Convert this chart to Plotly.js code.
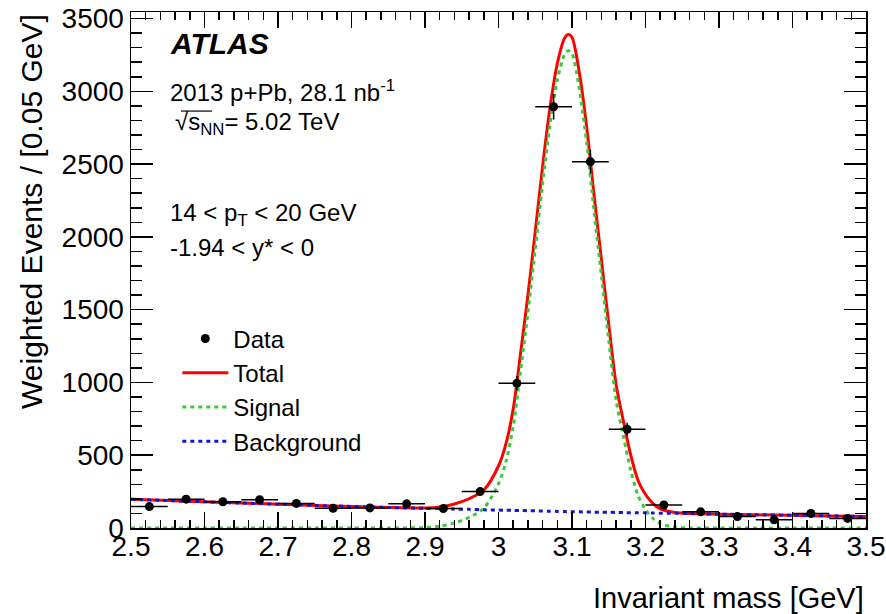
<!DOCTYPE html>
<html>
<head>
<meta charset="utf-8">
<script src="https://cdn.plot.ly/plotly-3.0.1.min.js"></script>
<style>html,body{margin:0;padding:0;background:#fff;}#chart{width:886px;height:614px;}</style>
</head>
<body>
<div id="chart"></div>
<script>
// ---- Data ----
const binCenters = [2.525, 2.575, 2.625, 2.675, 2.725, 2.775, 2.825, 2.875, 2.925, 2.975,
                    3.025, 3.075, 3.125, 3.175, 3.225, 3.275, 3.325, 3.375, 3.425, 3.475];
const dataValues = [147, 198, 180, 194, 169, 136, 138, 166, 134, 250,
                    994, 2894, 2517, 678, 158, 111, 79, 56, 100, 66];
const dataErrors = [20, 22, 21, 22, 21, 19, 19, 21, 19, 25,
                    50, 88, 82, 45, 20, 17, 15, 13, 17, 14];
const binHalfWidth = [0.025, 0.025, 0.025, 0.025, 0.025, 0.025, 0.025, 0.025, 0.025, 0.025,
                      0.025, 0.025, 0.025, 0.025, 0.025, 0.025, 0.025, 0.025, 0.025, 0.025];

const curveMass = [2.50, 2.55, 2.60, 2.65, 2.70, 2.75, 2.80, 2.85, 2.90, 2.92, 2.94, 2.96, 2.98,
                   3.00, 3.01, 3.02, 3.03, 3.04, 3.05, 3.06, 3.07, 3.08, 3.09, 3.095, 3.10,
                   3.11, 3.12, 3.13, 3.14, 3.15, 3.16, 3.17, 3.18, 3.19, 3.20, 3.21, 3.22,
                   3.24, 3.26, 3.30, 3.35, 3.40, 3.45, 3.50];
const totalFit = [197, 189, 180, 172, 164, 155, 148, 141, 138, 145, 165, 201, 261,
                  426, 576, 817, 1200, 1597, 2035, 2483, 2885, 3191, 3367, 3391, 3371,
                  3128, 2754, 2288, 1844, 1400, 985, 732, 499, 325, 230, 169, 132,
                  107, 99, 95, 91, 87, 83, 79];
const signalFit = [0, 0, 0, 0, 0, 0, 0, 0, 3, 12, 35, 73, 136,
                   303, 454, 696, 1080, 1478, 1917, 2366, 2770, 3077, 3254, 3279, 3259,
                   3017, 2644, 2179, 1735, 1292, 878, 626, 394, 221, 126, 66, 30,
                   6, 0, 0, 0, 0, 0, 0];
const backgroundFit = [197, 189, 180, 172, 164, 155, 148, 141, 135, 133, 130, 128, 125,
                       123, 122, 121, 120, 119, 118, 117, 115, 114, 113, 112, 112,
                       111, 110, 109, 109, 108, 107, 106, 105, 104, 104, 103, 102,
                       101, 99, 95, 91, 87, 83, 79];

const xTickVals = [2.5, 2.6, 2.7, 2.8, 2.9, 3.0, 3.1, 3.2, 3.3, 3.4, 3.5];
const xTickText = ["2.5", "2.6", "2.7", "2.8", "2.9", "3", "3.1", "3.2", "3.3", "3.4", "3.5"];
const yTickVals = [0, 500, 1000, 1500, 2000, 2500, 3000, 3500];
const yTickText = ["0", "500", "1000", "1500", "2000", "2500", "3000", "3500"];

// ---- Plot ----
const FONT = "Liberation Sans, Arial, Helvetica, sans-serif";

const traces = [
  {
    x: curveMass, y: totalFit, type: "scatter", mode: "lines", name: "Total",
    line: {color: "#ff0000", width: 3, shape: "spline", smoothing: 0.8},
    legendrank: 2, hoverinfo: "skip"
  },
  {
    x: curveMass, y: signalFit, type: "scatter", mode: "lines", name: "Signal",
    line: {color: "#3cc83c", width: 3, dash: "4px,4px", shape: "spline", smoothing: 0.8},
    legendrank: 3, hoverinfo: "skip"
  },
  {
    x: curveMass, y: backgroundFit, type: "scatter", mode: "lines", name: "Background",
    line: {color: "#1414d8", width: 3, dash: "4px,4px", shape: "spline", smoothing: 0.8},
    legendrank: 4, hoverinfo: "skip"
  },
  {
    x: binCenters, y: dataValues, type: "scatter", mode: "markers", name: "Data",
    marker: {color: "#000", size: 9},
    error_x: {type: "data", array: binHalfWidth, visible: true, color: "#000", thickness: 1.5, width: 0},
    error_y: {type: "data", array: dataErrors, visible: true, color: "#000", thickness: 1.5, width: 0},
    legendrank: 1
  }
];

const axisCommon = {
  showgrid: false, zeroline: false, showline: true, linecolor: "#000", linewidth: 1.5,
  mirror: "ticks", ticks: "inside", tickcolor: "#000", tickwidth: 1.5,
  ticklabeloverflow: "allow",
  tickfont: {family: FONT, size: 28, color: "#000"}
};

const layout = {
  width: 886, height: 614,
  margin: {l: 131, r: 20, t: 12, b: 86},
  paper_bgcolor: "#fff", plot_bgcolor: "#fff",
  font: {family: FONT, color: "#000"},
  showlegend: true,
  legend: {
    x: 0.063, y: 0.410, xanchor: "left", yanchor: "top",
    bgcolor: "rgba(0,0,0,0)", borderwidth: 0,
    font: {family: FONT, size: 24, color: "#000"},
    traceorder: "normal", itemwidth: 46, tracegroupgap: 0
  },
  xaxis: Object.assign({}, axisCommon, {
    range: [2.5, 3.5], tickmode: "array", tickvals: xTickVals, ticktext: xTickText,
    ticklen: 16, ticklabelstandoff: -7,
    minor: {dtick: 0.02, ticklen: 8, ticks: "inside", tickcolor: "#000", tickwidth: 1.5, showgrid: false}
  }),
  yaxis: Object.assign({}, axisCommon, {
    range: [0, 3545], tickmode: "array", tickvals: yTickVals, ticktext: yTickText,
    ticklen: 22, ticklabelstandoff: 0,
    minor: {dtick: 100, ticklen: 11, ticks: "inside", tickcolor: "#000", tickwidth: 1.5, showgrid: false}
  }),
  shapes: [
    {type: "line", xref: "paper", yref: "paper", x0: 0.0680, x1: 0.1102, y0: 0.808, y1: 0.808,
     line: {color: "#000", width: 1.2}}
  ],
  annotations: [
    {text: "<b><i>ATLAS</i></b>", xref: "paper", yref: "paper", x: 0.050, y: 0.9384,
     xanchor: "left", yanchor: "middle", showarrow: false, font: {family: FONT, size: 30}},
    {text: "2013 p+Pb, 28.1 nb<sup>-1</sup>", xref: "paper", yref: "paper", x: 0.050, y: 0.8475,
     xanchor: "left", yanchor: "middle", showarrow: false, font: {family: FONT, size: 24}},
    {text: "√s<sub>NN</sub>= 5.02 TeV", xref: "paper", yref: "paper", x: 0.057, y: 0.7845,
     xanchor: "left", yanchor: "middle", showarrow: false, font: {family: FONT, size: 24}},
    {text: "14 < p<sub>T</sub> < 20 GeV", xref: "paper", yref: "paper", x: 0.050, y: 0.607,
     xanchor: "left", yanchor: "middle", showarrow: false, font: {family: FONT, size: 24}},
    {text: "-1.94 < y* < 0", xref: "paper", yref: "paper", x: 0.050, y: 0.543,
     xanchor: "left", yanchor: "middle", showarrow: false, font: {family: FONT, size: 24}},
    {text: "Invariant mass [GeV]", xref: "paper", yref: "paper", x: 1.0, y: -0.1357,
     xanchor: "right", yanchor: "middle", showarrow: false, font: {family: FONT, size: 29}},
    {text: "Weighted Events / [0.05 GeV]", xref: "paper", yref: "paper", x: -0.1355, y: 1.0,
     xanchor: "center", yanchor: "top", textangle: -90, showarrow: false, font: {family: FONT, size: 30}}
  ]
};

Plotly.newPlot("chart", traces, layout, {displayModeBar: false, staticPlot: true});
</script>
</body>
</html>
